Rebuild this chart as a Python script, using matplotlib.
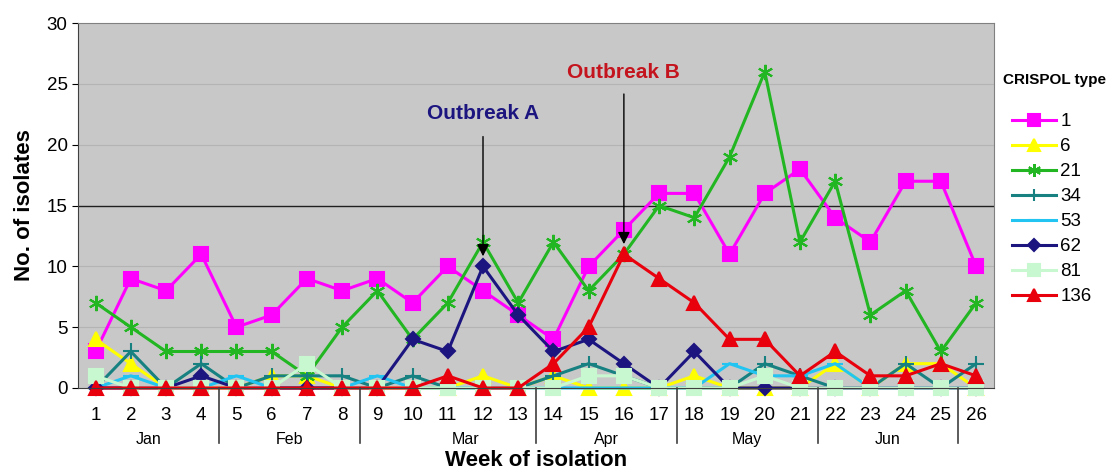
import numpy as np
import matplotlib.pyplot as plt

plt.rcParams['font.family'] = ['Liberation Sans', 'DejaVu Sans']

# tygodnie izolacji
weeks = np.arange(1, 27)

# liczba izolatów wg typu CRISPOL
t1 = [3, 9, 8, 11, 5, 6, 9, 8, 9, 7, 10, 8, 6, 4, 10, 13, 16, 16, 11, 16, 18, 14, 12, 17, 17, 10]
t6 = [4, 2, 0, 0, 0, 1, 1, 0, 0, 0, 0, 1, 0, 1, 0, 0, 0, 1, 0, 0, 0, 2, 0, 2, 2, 0]
t21 = [7, 5, 3, 3, 3, 3, 1, 5, 8, 4, 7, 12, 7, 12, 8, 11, 15, 14, 19, 26, 12, 17, 6, 8, 3, 7]
t34 = [0, 3, 0, 2, 0, 1, 1, 1, 0, 1, 0, 0, 0, 1, 2, 1, 0, 0, 0, 2, 1, 0, 0, 2, 0, 2]
t53 = [0, 1, 0, 0, 1, 0, 0, 0, 1, 0, 0, 0, 0, 0, 0, 0, 0, 0, 2, 1, 1, 2, 0, 0, 0, 0]
t62 = [0, 0, 0, 1, 0, 0, 0, 0, 0, 4, 3, 10, 6, 3, 4, 2, 0, 3, 0, 0, 0, 0, 0, 0, 0, 0]
t81 = [1, 0, 0, 0, 0, 0, 2, 0, 0, 0, 0, 0, 0, 0, 1, 1, 0, 0, 0, 1, 0, 0, 0, 0, 0, 0]
t136 = [0, 0, 0, 0, 0, 0, 0, 0, 0, 0, 1, 0, 0, 2, 5, 11, 9, 7, 4, 4, 1, 3, 1, 1, 2, 1]

months = ['Jan', 'Feb', 'Mar', 'Apr', 'May', 'Jun']
month_centers = [2.5, 6.5, 11.5, 15.5, 19.5, 23.5]
month_breaks = [4.5, 8.5, 13.5, 17.5, 21.5, 25.5]

series = [
    ('1', t1, '#ff00ff', 's', 10),
    ('6', t6, '#ffff00', '^', 10),
    ('21', t21, '#22b622', (6, 2, 0), 11),
    ('34', t34, '#178080', '+', 11),
    ('53', t53, '#22c4f2', '_', 11),
    ('62', t62, '#1c1580', 'D', 7),
    ('81', t81, '#c8f8d0', 's', 10),
    ('136', t136, '#e8000c', '^', 10),
]

fig = plt.figure(figsize=(11.14, 4.72), dpi=100)
ax = fig.add_axes([0.070, 0.178, 0.822, 0.773])
ax.set_facecolor('#c8c8c8')

for y in [5, 10, 20, 25]:
    ax.axhline(y, color='#b4b4b4', lw=0.8, zorder=0)
ax.axhline(15, color='#202020', lw=1.0, zorder=0)

for name, vals, col, mk, ms in series:
    ax.plot(weeks, vals, color=col, marker=mk, markersize=ms, lw=2.2,
            markeredgecolor=col, markeredgewidth=1.5, label=name, clip_on=False)

ax.set_xlim(0.5, 26.5)
ax.set_ylim(0, 30)
ax.set_yticks(range(0, 31, 5))
ax.set_xticks(weeks)
ax.tick_params(axis='both', labelsize=13.5, length=4)
ax.tick_params(axis='x', length=0, pad=14)
for s in ['top', 'right']:
    ax.spines[s].set_color('#808080')
ax.spines['left'].set_color('#404040')
ax.spines['bottom'].set_color('#404040')

# miesiące pod osią
for b in month_breaks:
    ax.plot([b, b], [0, -0.15], transform=ax.get_xaxis_transform(),
            color='#404040', lw=1.2, clip_on=False)
for m, c in zip(months, month_centers):
    ax.text(c, -0.14, m, transform=ax.get_xaxis_transform(),
            ha='center', va='center', fontsize=11.5)

ax.set_ylabel('No. of isolates', fontsize=16, fontweight='bold', labelpad=8)
ax.text(0.5, -0.2, 'Week of isolation', transform=ax.transAxes,
        ha='center', va='center', fontsize=16, fontweight='bold')

# adnotacje ognisk
ax.annotate('', xy=(12, 10.6), xytext=(12, 20.9),
            arrowprops=dict(arrowstyle='-|>', color='black', lw=1.0,
                            mutation_scale=18))
ax.text(12, 22.6, 'Outbreak A', color='#1c1580', fontsize=15,
        fontweight='bold', ha='center', va='center')
ax.annotate('', xy=(16, 11.6), xytext=(16, 24.4),
            arrowprops=dict(arrowstyle='-|>', color='black', lw=1.0,
                            mutation_scale=18))
ax.text(16, 25.9, 'Outbreak B', color='#c4141e', fontsize=15,
        fontweight='bold', ha='center', va='center')

# legenda
fig.text(0.9, 1 - 80 / 472, 'CRISPOL type', fontsize=11, fontweight='bold',
         ha='left', va='center')
fig.legend(loc='upper left', bbox_to_anchor=(0.902, 0.776),
           bbox_transform=fig.transFigure, frameon=False, fontsize=13.5,
           handlelength=2.35, handletextpad=0.2, labelspacing=0.42,
           borderaxespad=0.0, markerscale=0.85)

fig.savefig('out.png', dpi=100)
